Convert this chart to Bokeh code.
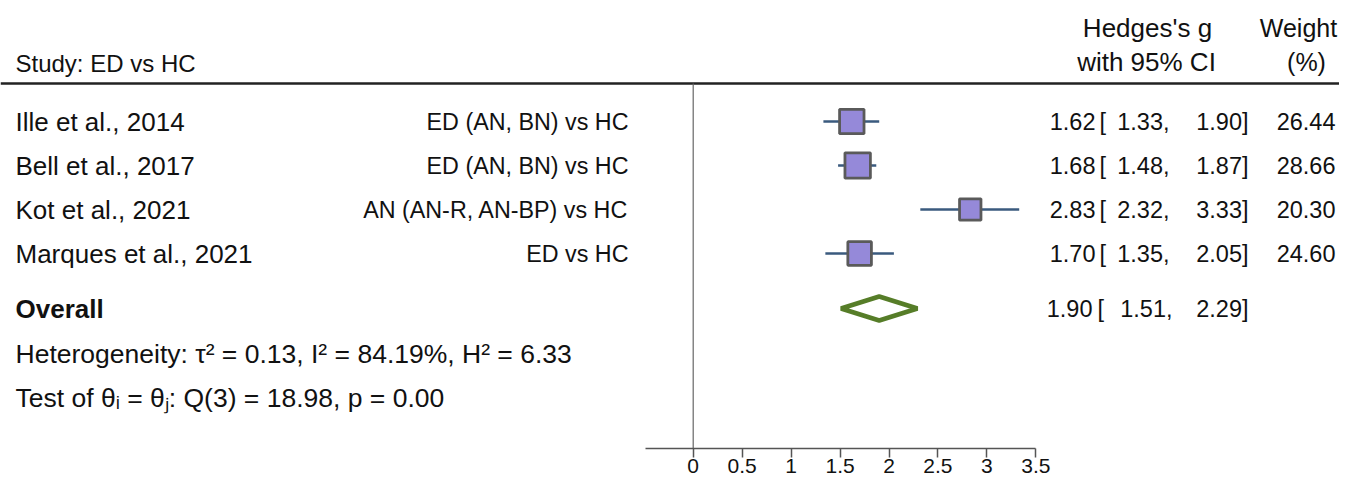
from bokeh.plotting import figure
from bokeh.models import Range1d, FixedTicker
from bokeh.core.properties import value
from bokeh.embed import file_html
from bokeh.resources import INLINE

# ---------------- data ----------------
studies = ["Ille et al., 2014", "Bell et al., 2017", "Kot et al., 2021", "Marques et al., 2021"]
groups = ["ED (AN, BN) vs HC", "ED (AN, BN) vs HC", "AN (AN-R, AN-BP) vs HC", "ED vs HC"]
g = [1.62, 1.68, 2.83, 1.70]
ci_lo = [1.33, 1.48, 2.32, 1.35]
ci_hi = [1.90, 1.87, 3.33, 2.05]
weights = [26.44, 28.66, 20.30, 24.60]
overall_g = 1.90
overall_lo = 1.51
overall_hi = 2.29
het_text = "Heterogeneity: \u03c4\u00b2 = 0.13, I\u00b2 = 84.19%, H\u00b2 = 6.33"
test_text = "Test of \u03b8\u1d62 = \u03b8\u2c7c: Q(3) = 18.98, p = 0.00"
study_header = "Study: ED vs HC"
col_header_g = ["Hedges's g", "with 95% CI"]
col_header_w = ["Weight", "(%)"]
overall_label = "Overall"
ticks = [0, 0.5, 1, 1.5, 2, 2.5, 3, 3.5]
tick_labels = ["0", "0.5", "1", "1.5", "2", "2.5", "3", "3.5"]

# ---------------- layout ----------------
W, H = 1339, 483
ZERO_PX = 692.7              # x pixel of g = 0
UNIT = 97.9                  # pixels per unit of g
FONT = "Liberation Sans"

row0, row_step = 121, 44
row_y = [row0 + i * row_step for i in range(len(studies))]
overall_y = 308
het_y = 353
test_y = 397
rule_y = 83
axis_y = 448

p = figure(width=W, height=H,
           x_range=Range1d(-ZERO_PX / UNIT, (W - ZERO_PX) / UNIT),
           y_range=Range1d(H, 0),
           output_backend="svg", toolbar_location=None,
           min_border=0, y_axis_location=None)
p.extra_x_ranges = {"px": Range1d(0, W)}
p.outline_line_color = None
p.xgrid.visible = False
p.ygrid.visible = False
p.background_fill_color = "white"
p.border_fill_color = "white"

ax = p.xaxis[0]
ax.fixed_location = axis_y
ax.bounds = (-0.49, 3.5)
ax.ticker = FixedTicker(ticks=ticks)
ax.major_label_overrides = {t: lab for t, lab in zip(ticks, tick_labels)}
ax.axis_line_color = "#555555"
ax.axis_line_width = 1.5
ax.major_tick_line_color = "#555555"
ax.major_tick_line_width = 1.5
ax.major_tick_in = 0
ax.major_tick_out = 9
ax.minor_tick_line_color = None
ax.major_label_text_font = FONT
ax.major_label_text_font_size = "21px"
ax.major_label_text_color = "#111111"
ax.major_label_standoff = 1

# header rule
p.segment(x0=[0], x1=[W], y0=[rule_y], y1=[rule_y],
          x_range_name="px", line_color="#222222", line_width=2.5)
# null line
p.segment(x0=[0], x1=[0], y0=[rule_y], y1=[axis_y],
          line_color="#666666", line_width=1.2)

# CIs and squares
p.segment(x0=ci_lo, x1=ci_hi, y0=row_y, y1=row_y,
          line_color="#3a5a7e", line_width=2.5)
sizes = [4.75 * w ** 0.5 for w in weights]
p.scatter(x=g, y=row_y, size=sizes, marker="square",
          fill_color="#9589d9", line_color="#5a5a5a", line_width=2.8)

# overall diamond
half_h = 12
p.patch(x=[overall_lo, overall_g, overall_hi, overall_g],
        y=[overall_y, overall_y - half_h, overall_y, overall_y + half_h],
        fill_color="white", line_color="#567d28", line_width=4.5)


def txt(x, y, t, size, align="left", bold=False):
    p.text(x=x, y=y, text=t, x_range_name="px",
           text_font=value(FONT), text_font_size=value(size),
           text_font_style="bold" if bold else "normal",
           text_align=align, text_baseline="middle", text_color="#111111")


NUM = "23.5px"
# headers
txt([15], [63], [study_header], "24px")
txt([1147, 1146], [27, 61], col_header_g, "26px", "center")
txt([1298, 1306], [27, 61], col_header_w, "25px", "center")

# study rows
txt([15] * len(studies), row_y, studies, "26px")
txt([628] * len(groups), row_y, groups, "23.3px", "right")
txt([1095] * len(g), row_y, [f"{v:.2f}" for v in g], NUM, "right")
txt([1099] * len(g), row_y, ["["] * len(g), NUM, "left")
txt([1169] * len(g), row_y, [f"{v:.2f}," for v in ci_lo], NUM, "right")
txt([1248] * len(g), row_y, [f"{v:.2f}]" for v in ci_hi], NUM, "right")
txt([1335] * len(weights), row_y, [f"{v:.2f}" for v in weights], NUM, "right")

# overall row
txt([15], [overall_y], [overall_label], "26px", bold=True)
txt([1092], [overall_y], [f"{overall_g:.2f}"], NUM, "right")
txt([1097], [overall_y], ["["], NUM, "left")
txt([1172], [overall_y], [f"{overall_lo:.2f},"], NUM, "right")
txt([1248], [overall_y], [f"{overall_hi:.2f}]"], NUM, "right")

# heterogeneity
txt([15], [het_y], [het_text], "26.5px")
txt([15], [test_y], [test_text], "26.5px")

open("out.html", "w").write(file_html(p, INLINE))
